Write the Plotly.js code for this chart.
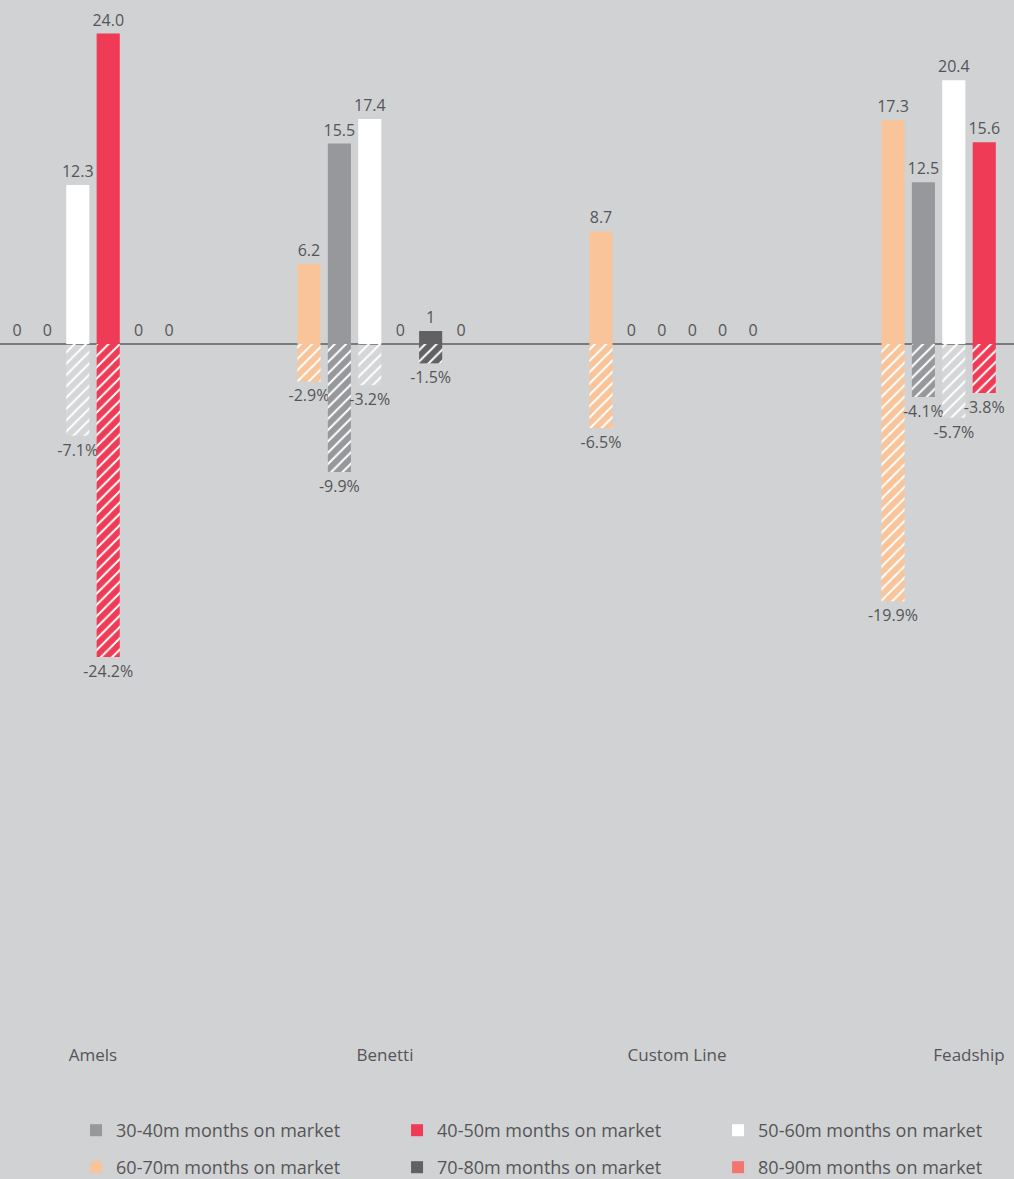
<!DOCTYPE html>
<html>
<head>
<meta charset="utf-8">
<script src="https://cdn.plot.ly/plotly-3.0.1.min.js"></script>
<style>
  html, body { margin: 0; padding: 0; background: #d1d2d4; }
  #chart { width: 1014px; height: 1179px; }
</style>
</head>
<body>
<div id="chart"></div>
<script>
// Shipyards on the x axis
const builders = ['Amels', 'Benetti', 'Custom Line', 'Feadship'];

// Size bands, in the order the bars sit inside each group
const bands = ['60-70m', '30-40m', '50-60m', '40-50m', '70-80m', '80-90m'];
const bandColors = ['#f9c499', '#97989b', '#ffffff', '#ef3b55', '#616163', '#f2766f'];
const patternBg = ['#f9c499', '#97989b', 'rgba(255,255,255,0.08)', '#ef3b55', '#616163', '#f2766f'];
// Which legend row each band goes to, and its order within that row
const legendRow = ['legend2', 'legend', 'legend', 'legend', 'legend2', 'legend2'];
const legendRanks = [1, 1, 3, 2, 2, 3];

// Months on market (positive bars)
const months6070 = [0, 6.2, 8.7, 17.3];
const months3040 = [0, 15.5, 0, 12.5];
const months5060 = [12.3, 17.4, 0, 20.4];
const months4050 = [24.0, 0, 0, 15.6];
const months7080 = [0, 1, 0, 0];
const months8090 = [0, 0, 0, 0];

// Price change in % (hatched negative bars)
const change6070 = [null, -2.9, -6.5, -19.9];
const change3040 = [null, -9.9, null, -4.1];
const change5060 = [-7.1, -3.2, null, -5.7];
const change4050 = [-24.2, null, null, -3.8];
const change7080 = [null, -1.5, null, null];
const change8090 = [null, null, null, null];

const monthsSeries = [months6070, months3040, months5060, months4050, months7080, months8090];
const changeSeries = [change6070, change3040, change5060, change4050, change7080, change8090];

const FONT = 'Open Sans, sans-serif';
const TEXT_COLOR = '#555558';
const labelFont = { family: FONT, size: 16, color: TEXT_COLOR };

function fmtMonths(v) {
  return (Number.isInteger(v) && v < 10) ? String(v) : v.toFixed(1);
}

const traces = [];
bands.forEach((band, i) => {
  traces.push({
    type: 'bar',
    name: band + ' months on market',
    x: builders,
    y: monthsSeries[i],
    offsetgroup: String(i),
    legend: legendRow[i],
    legendrank: legendRanks[i],
    marker: { color: bandColors[i], line: { width: 0 } },
    text: monthsSeries[i].map(fmtMonths),
    textposition: 'outside',
    textfont: labelFont,
    constraintext: 'none',
    cliponaxis: false,
    hoverinfo: 'skip'
  });
  traces.push({
    type: 'bar',
    name: band + ' price change',
    x: builders,
    y: changeSeries[i],
    offsetgroup: String(i),
    showlegend: false,
    marker: {
      color: patternBg[i],
      line: { width: 0 },
      pattern: { shape: '/', fgcolor: '#ffffff', bgcolor: patternBg[i], size: 8, solidity: 0.25, fillmode: 'replace' }
    },
    texttemplate: '%{y:.1f}%',
    textposition: 'outside',
    textfont: labelFont,
    constraintext: 'none',
    cliponaxis: false,
    hoverinfo: 'skip'
  });
});

function legendRowLayout(yTop) {
  return {
    orientation: 'h',
    xref: 'container', yref: 'container',
    x: 0.075, xanchor: 'left',
    y: yTop, yanchor: 'top',
    entrywidth: 276,
    traceorder: 'normal',
    font: { family: FONT, size: 18, color: TEXT_COLOR },
    bgcolor: 'rgba(0,0,0,0)'
  };
}

const layout = {
  width: 1014,
  height: 1179,
  paper_bgcolor: '#d1d2d4',
  plot_bgcolor: '#d1d2d4',
  font: { family: FONT, color: TEXT_COLOR, size: 16 },
  margin: { l: 0, r: 0, t: 0, b: 144, pad: 0 },
  barmode: 'group',
  bargap: 0.375,
  bargroupgap: 0.24,
  showlegend: true,
  legend: legendRowLayout(1 - 1112 / 1179),
  legend2: legendRowLayout(1 - 1149 / 1179),
  xaxis: {
    range: [-0.3185, 3.154],
    showgrid: false,
    showline: false,
    zeroline: false,
    ticks: '',
    ticklabelstandoff: 8,
    tickfont: { family: FONT, size: 17, color: TEXT_COLOR },
    fixedrange: true
  },
  yaxis: {
    range: [-53.44, 26.6],
    showgrid: false,
    showticklabels: false,
    ticks: '',
    zeroline: true,
    zerolinecolor: '#7a7a7c',
    zerolinewidth: 2,
    fixedrange: true
  }
};

Plotly.newPlot('chart', traces, layout, { displayModeBar: false, staticPlot: true });
</script>
</body>
</html>
